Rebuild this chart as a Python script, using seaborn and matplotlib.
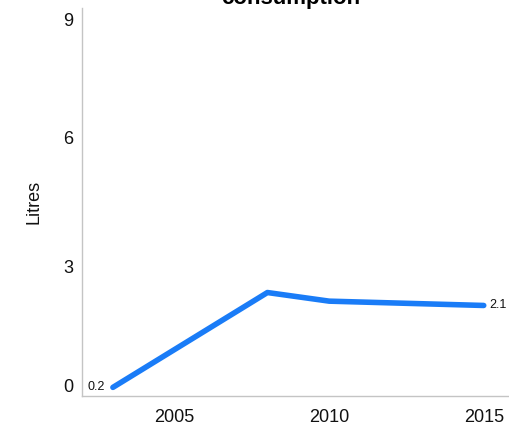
import matplotlib
matplotlib.use("Agg")
import matplotlib.pyplot as plt
import matplotlib.transforms as mtransforms
import seaborn as sns
import pandas as pd

years = [2003, 2008, 2010, 2015]
litres = [0.2, 2.4, 2.2, 2.1]
y_ticks = [0, 3, 6, 9]
x_ticks = [2005, 2010, 2015]

sns.set_theme(style="white")
plt.rcParams["font.family"] = ["Liberation Sans", "DejaVu Sans"]

df = pd.DataFrame({"year": years, "litres": litres})

fig = plt.figure(figsize=(5.1, 4.25), dpi=100)
ax = fig.add_axes([82 / 510, 1 - 396 / 425, (510 - 82) / 510, (396 - 8) / 425])

sns.lineplot(data=df, x="year", y="litres", ax=ax, color="#1a7cf7",
             linewidth=4, solid_capstyle="round", solid_joinstyle="round")

ax.set_xlim(2002.0, 2015.85)
ax.set_ylim(0, 9)
ax.set_xticks(x_ticks)
ax.set_xticklabels([str(t) for t in x_ticks], fontsize=13, color="#111111")
ax.set_yticks(y_ticks)
ax.set_yticklabels([str(t) for t in y_ticks], fontsize=13, color="#111111")
ax.tick_params(axis="both", length=0)
ax.tick_params(axis="x", pad=9)
ax.tick_params(axis="y", pad=6)

# keep the end labels of the value axis inside the plot frame
ylabels = ax.get_yticklabels()
ylabels[0].set_va("bottom")
ylabels[-1].set_va("top")
ylabels[-1].set_transform(ylabels[-1].get_transform()
                          + mtransforms.ScaledTranslation(0, -5 / 100, fig.dpi_scale_trans))

ax.set_xlabel("")
ax.set_ylabel("Litres", fontsize=13, color="#111111", labelpad=15)

for side in ["top", "right"]:
    ax.spines[side].set_visible(False)
for side in ["left", "bottom"]:
    ax.spines[side].set_color("#c4c4c4")
    ax.spines[side].set_linewidth(1)

# value labels at both ends of the series
ax.annotate(f"{litres[0]}", (years[0], litres[0]), xytext=(-6, 0),
            textcoords="offset points", ha="right", va="center",
            fontsize=9, color="#111111")
ax.annotate(f"{litres[-1]}", (years[-1], litres[-1]), xytext=(4, 0),
            textcoords="offset points", ha="left", va="center",
            fontsize=9, color="#111111")

fig.text(291 / 510, 1 - 4 / 425, "consumption", ha="center", va="baseline",
         fontsize=16, fontweight="bold", color="#000000")

fig.savefig("out.png", dpi=100)
